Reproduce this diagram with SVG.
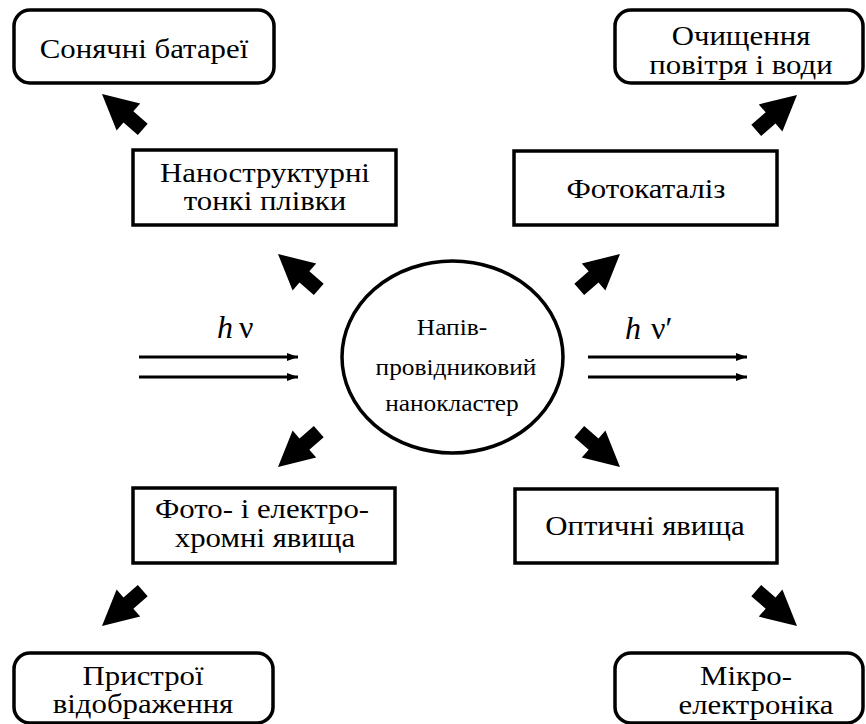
<svg xmlns="http://www.w3.org/2000/svg" xmlns:xlink="http://www.w3.org/1999/xlink" width="866" height="724" viewBox="0 0 866 724">
<style>
.box{fill:#fff;stroke:#000;stroke-width:3.5}
text{font-family:"Liberation Serif","DejaVu Serif","Noto Serif",Tinos,"Times New Roman",Times,serif;fill:#000}
.t{font-size:28px;text-anchor:middle}
.tc{font-size:23.5px;text-anchor:middle}
.blk{fill:#000;stroke:none}
.ray{stroke:#000;stroke-width:3.2;fill:none}
.sym{font-size:32px}
</style>
<defs>
<path id="blk" d="M0,0 L-35,-18 L-35,-7.5 L-54,-7.5 L-54,7.5 L-35,7.5 L-35,18 Z"/>
<marker id="ah" markerWidth="12" markerHeight="10" refX="11" refY="5" orient="auto" markerUnits="userSpaceOnUse">
<path d="M0,1 L11,5 L0,9 Z" fill="#000"/>
</marker>
</defs>

<g id="solar">
<rect class="box" x="14" y="10" width="260" height="73" rx="16"/>
<text class="t" transform="translate(144,58) scale(1.1,1)">Сонячні батареї</text>
</g>
<g id="purification">
<rect class="box" x="615" y="10" width="248" height="73" rx="16"/>
<text class="t" transform="translate(741,45) scale(1.1,1)">Очищення</text>
<text class="t" transform="translate(741,74) scale(1.1,1)">повітря і води</text>
</g>
<g id="films">
<rect class="box" x="133" y="150" width="263" height="75"/>
<text class="t" transform="translate(265,182) scale(1.1,1)">Наноструктурні</text>
<text class="t" transform="translate(265,210) scale(1.1,1)">тонкі плівки</text>
</g>
<g id="photocatalysis">
<rect class="box" x="514" y="151" width="263" height="74"/>
<text class="t" transform="translate(646,198) scale(1.1,1)">Фотокаталіз</text>
</g>
<g id="nanocluster">
<ellipse class="box" cx="452.5" cy="357" rx="110.5" ry="96"/>
<text class="tc" transform="translate(452,335) scale(1.08,1)">Напів-</text>
<text class="tc" transform="translate(456,375) scale(1.08,1)">провідниковий</text>
<text class="tc" transform="translate(452,411) scale(1.08,1)">нанокластер</text>
</g>
<g id="chromic">
<rect class="box" x="133" y="488" width="262" height="75"/>
<text class="t" transform="translate(262,518) scale(1.1,1)">Фото- і електро-</text>
<text class="t" transform="translate(265,547) scale(1.1,1)">хромні явища</text>
</g>
<g id="optical">
<rect class="box" x="515" y="489" width="262" height="74"/>
<text class="t" transform="translate(645,535) scale(1.1,1)">Оптичні явища</text>
</g>
<g id="displays">
<rect class="box" x="14" y="653" width="259" height="70" rx="16"/>
<text class="t" transform="translate(143,685) scale(1.1,1)">Пристрої</text>
<text class="t" transform="translate(143,713) scale(1.1,1)">відображення</text>
</g>
<g id="microelectronics">
<rect class="box" x="615" y="653" width="248" height="70" rx="16"/>
<text class="t" transform="translate(746,685) scale(1.1,1)">Мікро-</text>
<text class="t" transform="translate(756,714) scale(1.1,1)">електроніка</text>
</g>

<g id="connectors">
<use class="blk" xlink:href="#blk" transform="translate(102,94) rotate(-139)"/>
<use class="blk" xlink:href="#blk" transform="translate(278,254) rotate(-139)"/>
<use class="blk" xlink:href="#blk" transform="translate(620,254) rotate(-41)"/>
<use class="blk" xlink:href="#blk" transform="translate(797,95) rotate(-41)"/>
<use class="blk" xlink:href="#blk" transform="translate(278,467) rotate(139)"/>
<use class="blk" xlink:href="#blk" transform="translate(102,626) rotate(139)"/>
<use class="blk" xlink:href="#blk" transform="translate(620,467) rotate(41)"/>
<use class="blk" xlink:href="#blk" transform="translate(797,626) rotate(41)"/>
<line class="ray" x1="139" y1="357" x2="298" y2="357" marker-end="url(#ah)"/>
<line class="ray" x1="139" y1="377" x2="298" y2="377" marker-end="url(#ah)"/>
<line class="ray" x1="588" y1="357" x2="747" y2="357" marker-end="url(#ah)"/>
<line class="ray" x1="588" y1="377" x2="747" y2="377" marker-end="url(#ah)"/>
</g>
<g id="labels">
<text class="sym" x="217" y="338"><tspan font-style="italic">h</tspan><tspan x="239">ν</tspan></text>
<text class="sym" x="625" y="339"><tspan font-style="italic">h</tspan><tspan x="651">ν′</tspan></text>
</g>
</svg>
